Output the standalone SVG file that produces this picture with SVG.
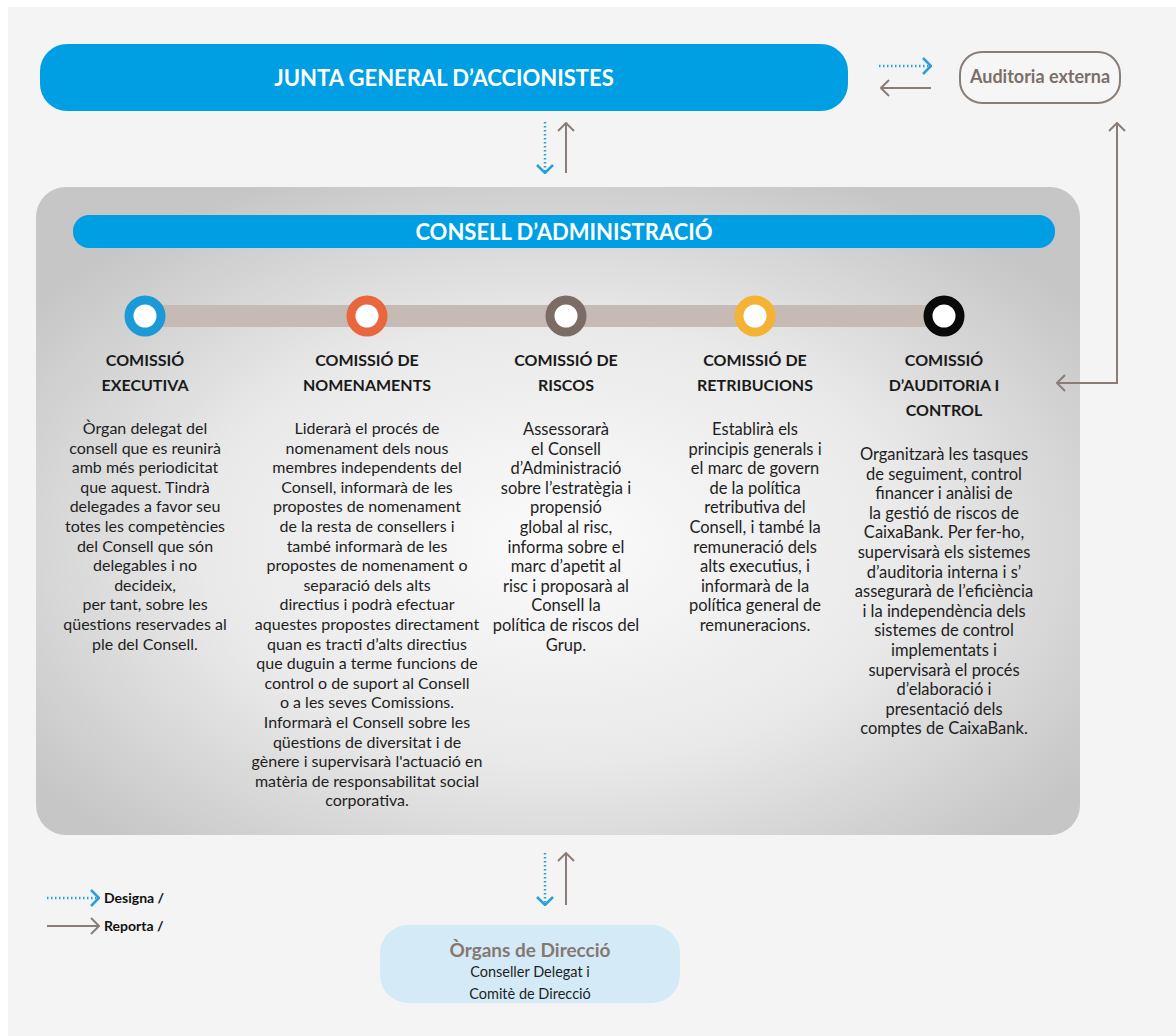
<svg xmlns="http://www.w3.org/2000/svg" width="1176" height="1036" viewBox="0 0 1176 1036">
<style>
.hdr{font-family:Lato,"Open Sans","Liberation Sans",sans-serif;font-weight:700;fill:#ffffff;text-anchor:middle}
.ttl{font-family:Lato,"Liberation Sans",sans-serif;font-weight:700;font-size:16px;fill:#1a1a1a;text-anchor:middle}
.body{font-family:Lato,"Liberation Sans",sans-serif;font-size:16px;fill:#1e1e1e;text-anchor:middle}
.body2{font-family:Lato,"Liberation Sans",sans-serif;font-size:16.5px;fill:#1e1e1e;text-anchor:middle}
.brown{fill:none;stroke:#8a7d77;stroke-width:2}
.blue{fill:none;stroke:#2a9fd9;stroke-width:2.5;stroke-dasharray:1.5 2.5}
.leg{font-family:Lato,"Liberation Sans",sans-serif;font-weight:700;font-size:14px;fill:#111}
.ring{stroke-width:9;fill:#ffffff}
</style>
<defs>
<radialGradient id="panelGrad" cx="0.5" cy="0.55" r="0.62">
<stop offset="0" stop-color="#fbfbfb"/>
<stop offset="0.55" stop-color="#e9e9e9"/>
<stop offset="1" stop-color="#c6c6c6"/>
</radialGradient>
<marker id="hBrown" viewBox="0 0 10 18" refX="9" refY="9" markerWidth="10" markerHeight="18" markerUnits="userSpaceOnUse" orient="auto-start-reverse">
<path d="M1,1 L9,9 L1,17" fill="none" stroke="#8a7d77" stroke-width="2"/>
</marker>
<marker id="hBlue" viewBox="0 0 10 18" refX="9" refY="9" markerWidth="10" markerHeight="18" markerUnits="userSpaceOnUse" orient="auto-start-reverse">
<path d="M1,1 L9,9 L1,17" fill="none" stroke="#2a9fd9" stroke-width="2.5"/>
</marker>
</defs>
<rect x="0" y="0" width="1176" height="1036" fill="#ffffff"/>
<rect x="8" y="7" width="1168" height="1029" fill="#f4f4f4"/>

<g id="junta">
<rect x="40" y="44" width="808" height="67" rx="27" fill="#009fe3"/>
<text class="hdr" x="444" y="86" font-size="22">JUNTA GENERAL D’ACCIONISTES</text>
</g>

<g id="auditoria-externa">
<rect x="960" y="52" width="160" height="51" rx="22" fill="#f6f6f6" stroke="#8a7d77" stroke-width="2"/>
<text x="1040" y="83" font-family="Lato, 'Liberation Sans', sans-serif" font-weight="700" font-size="18" fill="#7b6f6a" text-anchor="middle">Auditoria externa</text>
</g>

<g id="consell">
<rect x="36" y="187" width="1044" height="648" rx="30" fill="url(#panelGrad)"/>
<rect x="73" y="215" width="982" height="33" rx="16" fill="#009fe3"/>
<text class="hdr" x="564" y="240" font-size="22">CONSELL D’ADMINISTRACIÓ</text>
<rect x="145" y="305" width="799" height="22" fill="#c5bab4"/>
</g>

<g id="comissio-executiva">
<circle class="ring" cx="145" cy="316" r="16" stroke="#1b9ad7"/>
<text class="ttl" x="145" y="366">COMISSIÓ<tspan x="145" dy="25">EXECUTIVA</tspan></text>
<text class="body" x="145" y="434">Òrgan delegat del<tspan x="145" dy="19.6">consell que es reunirà</tspan><tspan x="145" dy="19.6">amb més periodicitat</tspan><tspan x="145" dy="19.6">que aquest. Tindrà</tspan><tspan x="145" dy="19.6">delegades a favor seu</tspan><tspan x="145" dy="19.6">totes les competències</tspan><tspan x="145" dy="19.6">del Consell que són</tspan><tspan x="145" dy="19.6">delegables i no</tspan><tspan x="145" dy="19.6">decideix,</tspan><tspan x="145" dy="19.6">per tant, sobre les</tspan><tspan x="145" dy="19.6">qüestions reservades al</tspan><tspan x="145" dy="19.6">ple del Consell.</tspan></text>
</g>

<g id="comissio-nomenaments">
<circle class="ring" cx="367" cy="316" r="16" stroke="#e9673f"/>
<text class="ttl" x="367" y="366">COMISSIÓ DE<tspan x="367" dy="25">NOMENAMENTS</tspan></text>
<text class="body" x="367" y="434">Liderarà el procés de<tspan x="367" dy="19.6">nomenament dels nous</tspan><tspan x="367" dy="19.6">membres independents del</tspan><tspan x="367" dy="19.6">Consell, informarà de les</tspan><tspan x="367" dy="19.6">propostes de nomenament</tspan><tspan x="367" dy="19.6">de la resta de consellers i</tspan><tspan x="367" dy="19.6">també informarà de les</tspan><tspan x="367" dy="19.6">propostes de nomenament o</tspan><tspan x="367" dy="19.6">separació dels alts</tspan><tspan x="367" dy="19.6">directius i podrà efectuar</tspan><tspan x="367" dy="19.6">aquestes propostes directament</tspan><tspan x="367" dy="19.6">quan es tracti d’alts directius</tspan><tspan x="367" dy="19.6">que duguin a terme funcions de</tspan><tspan x="367" dy="19.6">control o de suport al Consell</tspan><tspan x="367" dy="19.6">o a les seves Comissions.</tspan><tspan x="367" dy="19.6">Informarà el Consell sobre les</tspan><tspan x="367" dy="19.6">qüestions de diversitat i de</tspan><tspan x="367" dy="19.6">gènere i supervisarà l'actuació en</tspan><tspan x="367" dy="19.6">matèria de responsabilitat social</tspan><tspan x="367" dy="19.6">corporativa.</tspan></text>
</g>

<g id="comissio-riscos">
<circle class="ring" cx="566" cy="316" r="16" stroke="#7b6d66"/>
<text class="ttl" x="566" y="366">COMISSIÓ DE<tspan x="566" dy="25">RISCOS</tspan></text>
<text class="body2" x="566" y="435">Assessorarà<tspan x="566" dy="19.6">el Consell</tspan><tspan x="566" dy="19.6">d’Administració</tspan><tspan x="566" dy="19.6">sobre l’estratègia i</tspan><tspan x="566" dy="19.6">propensió</tspan><tspan x="566" dy="19.6">global al risc,</tspan><tspan x="566" dy="19.6">informa sobre el</tspan><tspan x="566" dy="19.6">marc d’apetit al</tspan><tspan x="566" dy="19.6">risc i proposarà al</tspan><tspan x="566" dy="19.6">Consell la</tspan><tspan x="566" dy="19.6">política de riscos del</tspan><tspan x="566" dy="19.6">Grup.</tspan></text>
</g>

<g id="comissio-retribucions">
<circle class="ring" cx="755" cy="316" r="16" stroke="#f5b335"/>
<text class="ttl" x="755" y="366">COMISSIÓ DE<tspan x="755" dy="25">RETRIBUCIONS</tspan></text>
<text class="body2" x="755" y="435">Establirà els<tspan x="755" dy="19.6">principis generals i</tspan><tspan x="755" dy="19.6">el marc de govern</tspan><tspan x="755" dy="19.6">de la política</tspan><tspan x="755" dy="19.6">retributiva del</tspan><tspan x="755" dy="19.6">Consell, i també la</tspan><tspan x="755" dy="19.6">remuneració dels</tspan><tspan x="755" dy="19.6">alts executius, i</tspan><tspan x="755" dy="19.6">informarà de la</tspan><tspan x="755" dy="19.6">política general de</tspan><tspan x="755" dy="19.6">remuneracions.</tspan></text>
</g>

<g id="comissio-auditoria-control">
<circle class="ring" cx="944" cy="316" r="16" stroke="#0a0a0a"/>
<text class="ttl" x="944" y="366">COMISSIÓ<tspan x="944" dy="25">D’AUDITORIA I</tspan><tspan x="944" dy="25">CONTROL</tspan></text>
<text class="body2" x="944" y="460">Organitzarà les tasques<tspan x="944" dy="19.6">de seguiment, control</tspan><tspan x="944" dy="19.6">financer i anàlisi de</tspan><tspan x="944" dy="19.6">la gestió de riscos de</tspan><tspan x="944" dy="19.6">CaixaBank. Per fer-ho,</tspan><tspan x="944" dy="19.6">supervisarà els sistemes</tspan><tspan x="944" dy="19.6">d’auditoria interna i s’</tspan><tspan x="944" dy="19.6">assegurarà de l’eficiència</tspan><tspan x="944" dy="19.6">i la independència dels</tspan><tspan x="944" dy="19.6">sistemes de control</tspan><tspan x="944" dy="19.6">implementats i</tspan><tspan x="944" dy="19.6">supervisarà el procés</tspan><tspan x="944" dy="19.6">d’elaboració i</tspan><tspan x="944" dy="19.6">presentació dels</tspan><tspan x="944" dy="19.6">comptes de CaixaBank.</tspan></text>
</g>

<g id="organs-direccio">
<rect x="380" y="925" width="300" height="78" rx="28" fill="#d4ebf7"/>
<text x="530" y="957" font-family="Lato, 'Liberation Sans', sans-serif" font-weight="700" font-size="19" fill="#857872" text-anchor="middle">Òrgans de Direcció</text>
<text x="530" y="977" font-family="Lato, 'Liberation Sans', sans-serif" font-size="14.5" fill="#1e1e1e" text-anchor="middle">Conseller Delegat i<tspan x="530" dy="22">Comitè de Direcció</tspan></text>
</g>

<g id="legend">
<line class="blue" x1="47" y1="898" x2="99" y2="898" marker-end="url(#hBlue)"/>
<text class="leg" x="104" y="903">Designa /</text>
<line class="brown" x1="47" y1="926" x2="99" y2="926" marker-end="url(#hBrown)"/>
<text class="leg" x="104" y="931">Reporta /</text>
</g>

<g id="connectors">
<line class="blue" x1="879" y1="66" x2="931" y2="66" marker-end="url(#hBlue)"/>
<line class="brown" x1="931" y1="88" x2="881" y2="88" marker-end="url(#hBrown)"/>
<line class="blue" x1="545" y1="122" x2="545" y2="173" marker-end="url(#hBlue)"/>
<line class="brown" x1="566" y1="173" x2="566" y2="123" marker-end="url(#hBrown)"/>
<path class="brown" d="M1117,123 V383 H1057" marker-start="url(#hBrown)" marker-end="url(#hBrown)"/>
<line class="blue" x1="545" y1="853" x2="545" y2="905" marker-end="url(#hBlue)"/>
<line class="brown" x1="566" y1="905" x2="566" y2="853" marker-end="url(#hBrown)"/>
</g>
</svg>
